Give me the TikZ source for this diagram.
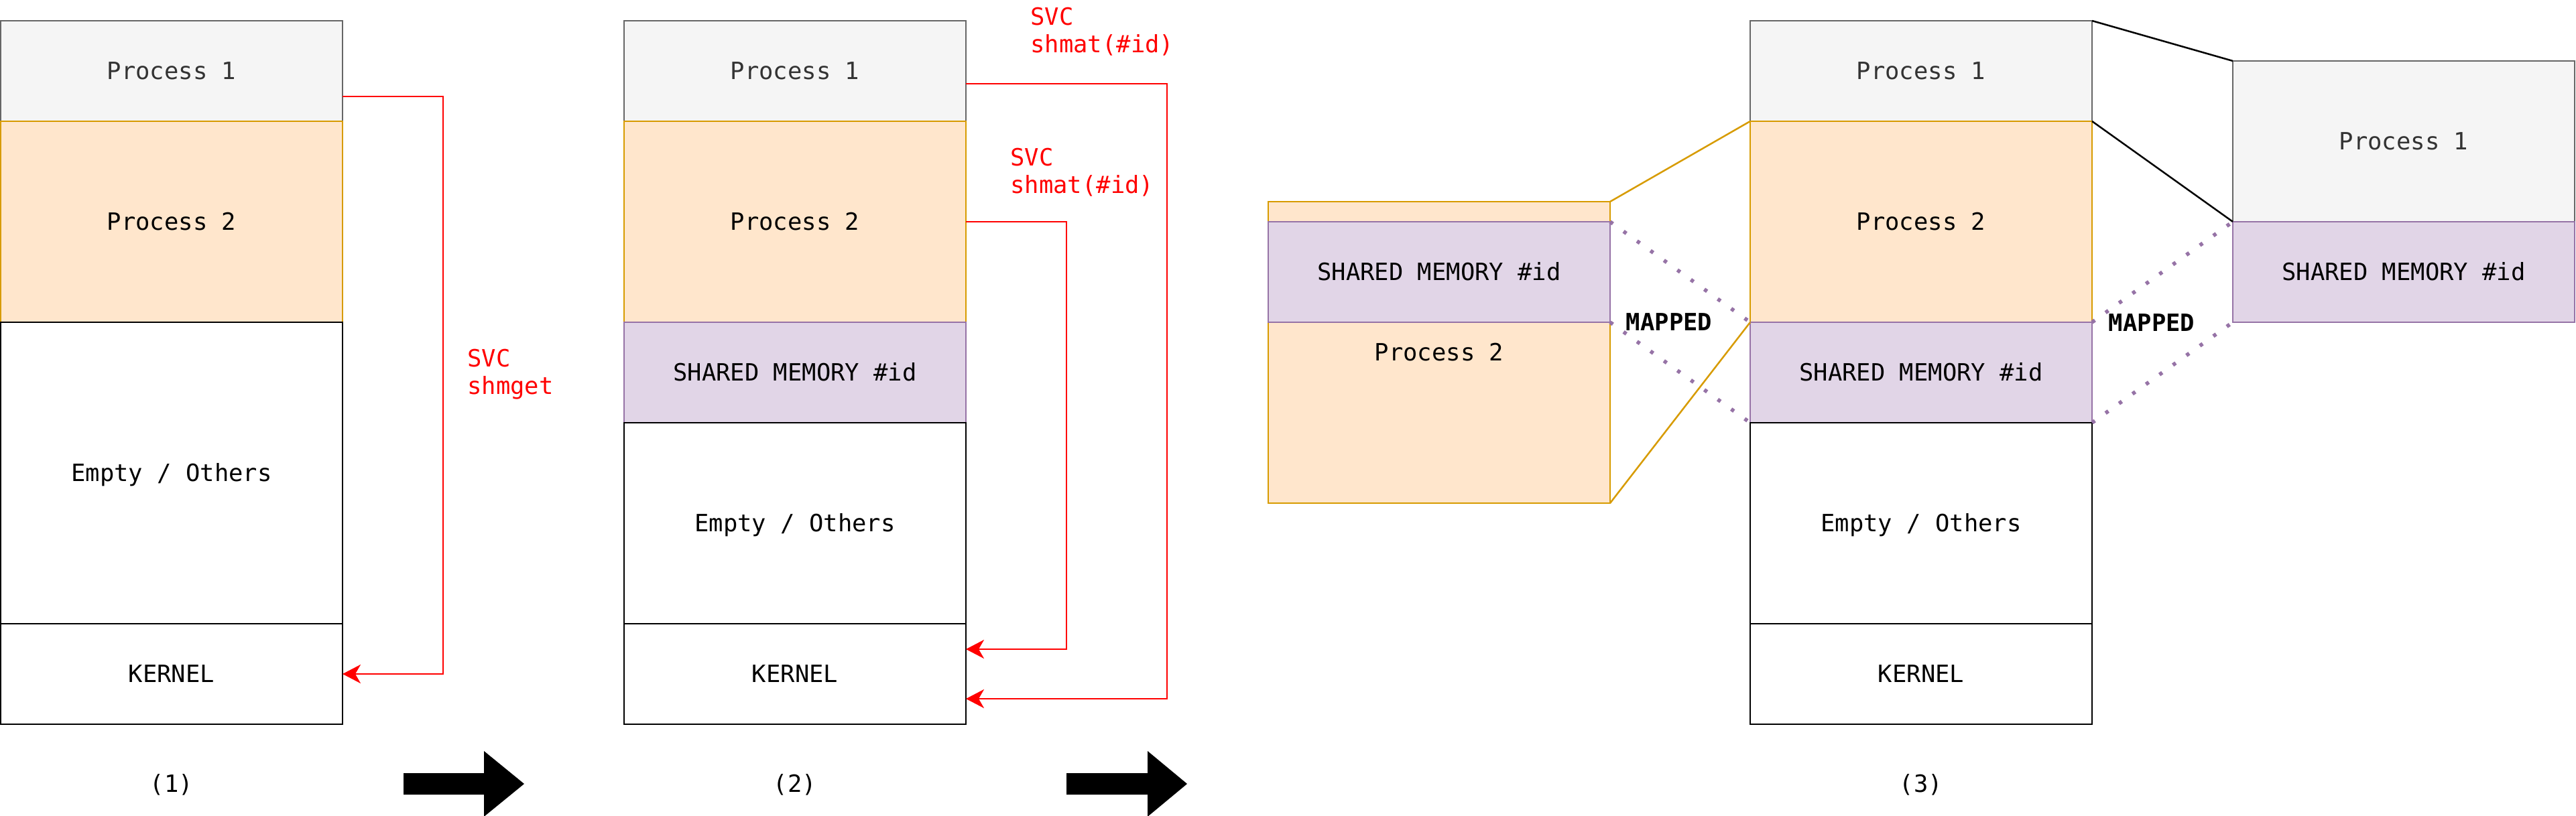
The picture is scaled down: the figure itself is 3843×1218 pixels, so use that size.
\documentclass[tikz,border=0pt]{standalone}
\usepackage{fontspec}
\newfontfamily\mono{DejaVu Sans Mono}
\usetikzlibrary{arrows.meta}
\definecolor{p1fill}{HTML}{F5F5F5}
\definecolor{p1line}{HTML}{666666}
\definecolor{p1text}{HTML}{333333}
\definecolor{p2fill}{HTML}{FFE6CC}
\definecolor{p2line}{HTML}{D79B00}
\definecolor{shfill}{HTML}{E1D5E7}
\definecolor{shline}{HTML}{9673A6}
\definecolor{svcred}{HTML}{FF0000}
\begin{document}
\begin{tikzpicture}[x=0.5pt,y=-0.5pt,
  txt/.style={font=\mono\fontsize{17.75}{20.5}\selectfont},
  ctxt/.style={txt, text height=16.5pt, text depth=4.2pt},
  blk/.style={ctxt, draw=black, fill=white, line width=1.25pt, inner sep=0pt, outer sep=0pt,
               anchor=north west, minimum width=255pt},
  p1box/.style={blk, draw=p1line, fill=p1fill, text=p1text},
  p2box/.style={blk, draw=p2line, fill=p2fill},
  shbox/.style={blk, draw=shline, fill=shfill},
  svc/.style={draw=svcred, line width=1.25pt, -{Stealth[length=13.5pt,width=14pt,inset=4pt]}},
  svclabel/.style={txt, text=svcred, align=left, anchor=north west, inner sep=0pt},
  mapline/.style={draw=shline, line width=2.8pt, dash pattern=on 2.6pt off 9.75pt},
  maplabel/.style={font=\mono\bfseries\fontsize{17.75}{20.5}\selectfont, text height=16.5pt, text depth=4.2pt},
  zoomline/.style={line width=1.25pt},
  steparrow/.style={fill=black},
  caption/.style={ctxt}
]
\useasboundingbox (0,0) rectangle (3843,1218);

% ---------- column 1 ----------
\node[p1box, minimum height=75pt]  (p1a) at (1,31)  {Process 1};
\node[p2box, minimum height=150pt] (p2a) at (1,181) {Process 2};
\node[blk,   minimum height=225pt] (ea)  at (1,481) {Empty / Others};
\node[blk,   minimum height=75pt]  (ka)  at (1,931) {KERNEL};
\node[caption] (ca) at (256,1170) {(1)};

\draw[svc] (p1a.east |- 0,144) -- (661,144) -- (661,1006) -- (ka.east |- 0,1006);
\node[svclabel] (la) at (697,521) {SVC\\shmget};

% ---------- column 2 ----------
\node[p1box, minimum height=75pt]  (p1b) at (931,31)  {Process 1};
\node[p2box, minimum height=150pt] (p2b) at (931,181) {Process 2};
\node[shbox, minimum height=75pt]  (sb)  at (931,481) {SHARED MEMORY \#id};
\node[blk,   minimum height=150pt] (eb)  at (931,631) {Empty / Others};
\node[blk,   minimum height=75pt]  (kb)  at (931,931) {KERNEL};
\node[caption] (cb) at (1186,1170) {(2)};

\draw[svc] (p2b.east |- 0,331) -- (1591,331) -- (1591,969) -- (kb.east |- 0,969);
\draw[svc] (p1b.east |- 0,125) -- (1741,125) -- (1741,1043) -- (kb.east |- 0,1043);
\node[svclabel] (lb1) at (1507,221) {SVC\\shmat(\#id)};
\node[svclabel] (lb2) at (1537,11)  {SVC\\shmat(\#id)};

% ---------- step arrows ----------
\fill[steparrow] (602,1154) -- (722,1154) -- (722,1121) -- (782,1170) -- (722,1219) -- (722,1186) -- (602,1186) -- cycle;
\fill[steparrow] (1591,1154) -- (1712,1154) -- (1712,1121) -- (1771,1170) -- (1712,1219) -- (1712,1186) -- (1591,1186) -- cycle;

% ---------- column 3 ----------
\node[p1box, minimum height=75pt]  (p1c) at (2611,31)  {Process 1};
\node[p2box, minimum height=150pt] (p2c) at (2611,181) {Process 2};
\node[shbox, minimum height=75pt]  (sc)  at (2611,481) {SHARED MEMORY \#id};
\node[blk,   minimum height=150pt] (ec)  at (2611,631) {Empty / Others};
\node[blk,   minimum height=75pt]  (kc)  at (2611,931) {KERNEL};
\node[caption] (cc) at (2866,1170) {(3)};

% ---------- left zoom (process 2 view) ----------
\node[p2box, minimum height=225pt] (zp2) at (1892,301) {};
\node[shbox, minimum height=75pt]  (zsh) at (1892,331) {SHARED MEMORY \#id};
\node[ctxt] (zp2t) at (2147,526) {Process 2};

\draw[zoomline, draw=p2line] (zp2.north east) -- (p2c.north west);
\draw[zoomline, draw=p2line] (zp2.south east) -- (p2c.south west);
\draw[mapline] (zsh.north east) -- (sc.north west);
\draw[mapline] (zsh.south east) -- (sc.south west);
\node[maplabel] (ml) at (2490,481) {MAPPED};

% ---------- right zoom (process 1 view) ----------
\node[p1box, minimum height=120pt] (rp1) at (3331,91)  {Process 1};
\node[shbox, minimum height=75pt]  (rsh) at (3331,331) {SHARED MEMORY \#id};

\draw[zoomline, draw=black] (p1c.north east) -- (rp1.north west);
\draw[zoomline, draw=black] (p1c.south east) -- (rp1.south west);
\draw[mapline] (sc.north east) -- (rsh.north west);
\draw[mapline] (sc.south east) -- (rsh.south west);
\node[maplabel] (mr) at (3210,482) {MAPPED};
\end{tikzpicture}
\end{document}
